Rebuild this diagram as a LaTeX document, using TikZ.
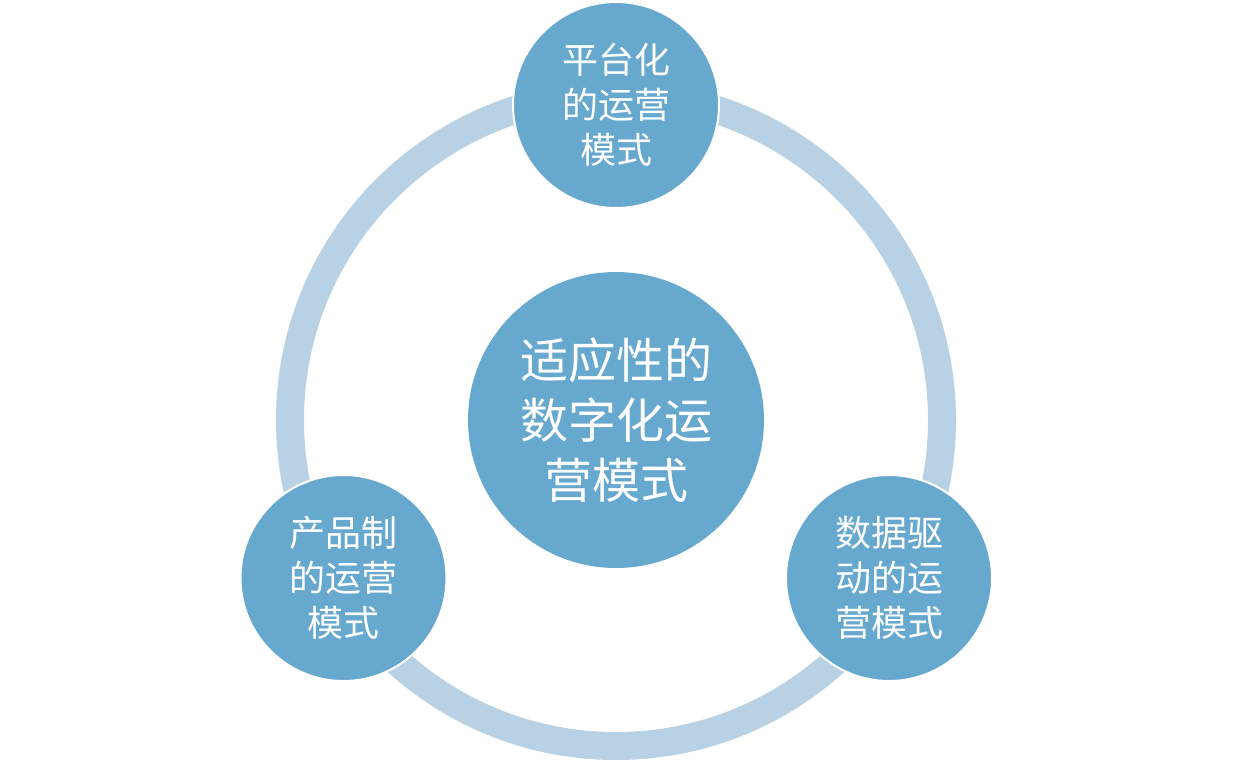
\documentclass[tikz,border=0pt]{standalone}
\usepackage{fontspec}
\newfontfamily\cjk{Noto Sans CJK SC}
\definecolor{circblue}{HTML}{67A8CF}
\definecolor{ringblue}{HTML}{B9D1E5}
\begin{document}
\begin{tikzpicture}[x=1pt,y=-1pt,
  bigc/.style={circle,fill=circblue,minimum size=296pt,inner sep=0pt,text=white,align=center,
    font=\cjk\fontsize{48}{60}\selectfont},
  smallc/.style={circle,fill=circblue,draw=white,line width=2pt,minimum size=206pt,inner sep=0pt,text=white,align=center,
    font=\cjk\fontsize{36}{45}\selectfont}]
\useasboundingbox (0,0) rectangle (1233,761);
\coordinate (c) at (616,420);
\draw[ringblue,line width=28pt] (c) circle[radius=326pt];
\node[bigc] (center) at (c) {适应性的\\数字化运\\营模式};
\node[smallc] (top) at (616,105) {平台化\\的运营\\模式};
\node[smallc] (left) at (343.5,578) {产品制\\的运营\\模式};
\node[smallc] (right) at (889,578) {数据驱\\动的运\\营模式};
\end{tikzpicture}
\end{document}
